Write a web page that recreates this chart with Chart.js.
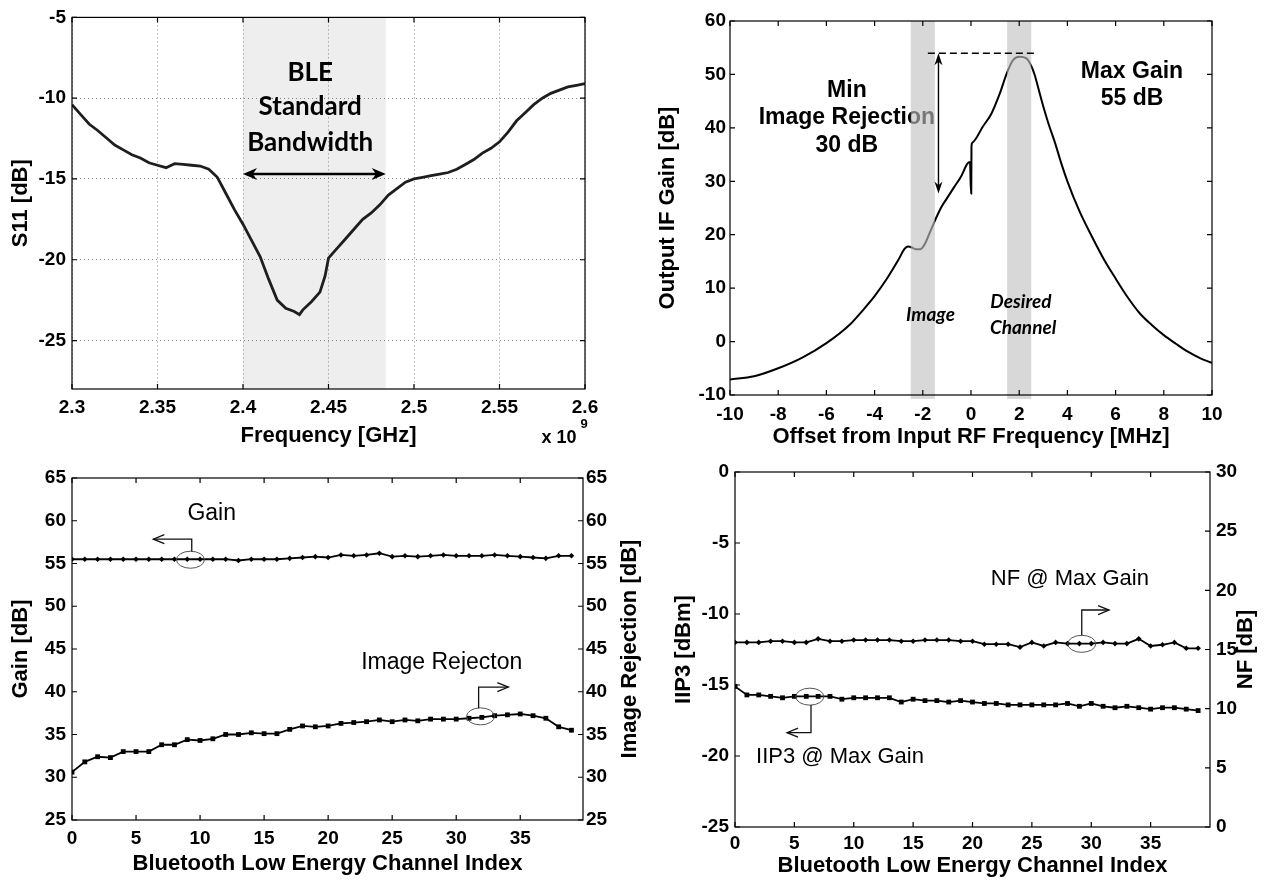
<!DOCTYPE html>
<html>
<head>
<meta charset="utf-8">
<script src="https://cdn.jsdelivr.net/npm/chart.js@4.4.1/dist/chart.umd.min.js"></script>
<style>
  html, body { margin: 0; padding: 0; background: #fff; }
  #wrap { position: relative; width: 1264px; height: 880px; overflow: hidden; background: #fff; }
  .panel { position: absolute; }
</style>
</head>
<body>
<div id="wrap">
  <div class="panel" style="left:0;top:0;width:640px;height:450px"><canvas id="s11Chart"></canvas></div>
  <div class="panel" style="left:640px;top:0;width:624px;height:450px"><canvas id="ifChart"></canvas></div>
  <div class="panel" style="left:0;top:450px;width:660px;height:430px"><canvas id="gainChart"></canvas></div>
  <div class="panel" style="left:640px;top:450px;width:624px;height:430px"><canvas id="nfChart"></canvas></div>
</div>

<script>
// ========== Data: S11 ==========
const s11Freq = [2.300, 2.305, 2.310, 2.315, 2.320, 2.325, 2.330, 2.335, 2.340, 2.345,
                 2.350, 2.355, 2.360, 2.365, 2.370, 2.375, 2.380, 2.385, 2.390, 2.395,
                 2.400, 2.405, 2.410, 2.415, 2.420, 2.425, 2.430, 2.433, 2.435, 2.440,
                 2.445, 2.448, 2.450, 2.455, 2.460, 2.465, 2.470, 2.475, 2.480, 2.485,
                 2.490, 2.495, 2.500, 2.505, 2.510, 2.515, 2.520, 2.525, 2.530, 2.535,
                 2.540, 2.545, 2.550, 2.555, 2.560, 2.565, 2.570, 2.575, 2.580, 2.585,
                 2.590, 2.595, 2.600];
const s11Db = [-10.4, -11.0, -11.6, -12.0, -12.45, -12.9, -13.2, -13.5, -13.7, -14.0,
               -14.15, -14.3, -14.05, -14.1, -14.15, -14.2, -14.4, -14.9, -15.9, -16.9,
               -17.8, -18.8, -19.8, -21.2, -22.5, -23.0, -23.2, -23.4, -23.1, -22.6,
               -22.0, -21.0, -19.9, -19.3, -18.7, -18.1, -17.5, -17.1, -16.6, -16.0,
               -15.6, -15.2, -15.0, -14.9, -14.8, -14.7, -14.6, -14.4, -14.1, -13.8,
               -13.4, -13.1, -12.7, -12.1, -11.4, -10.9, -10.4, -10.0, -9.7, -9.5,
               -9.3, -9.2, -9.1];
const s11XTicks = [2.3, 2.35, 2.4, 2.45, 2.5, 2.55, 2.6];
const s11YTicks = [-25, -20, -15, -10, -5];
const bleBand = [2.4, 2.4835];

// ========== Data: IF gain vs offset ==========
const ifOffset = [-10, -9, -8, -7, -6, -5, -4.5, -4, -3.5, -3, -2.75, -2.6, -2.45, -2.3, -2.1,
                  -1.9, -1.7, -1.5, -1.25, -1, -0.7, -0.4, -0.15, -0.04, 0, 0.01, 0.02, 0.05,
                  0.5, 0.85, 1.2, 1.5, 1.75, 2.0, 2.3, 2.5, 2.65, 2.8, 3.0, 3.2, 3.5, 3.75, 4.0, 4.5,
                  5.0, 5.5, 6.0, 6.5, 7.0, 7.5, 8.0, 8.5, 9.0, 9.5, 10];
const ifGain = [-7.1, -6.5, -5.0, -3.0, -0.3, 3.3, 5.8, 8.5, 11.7, 15.4, 17.4, 17.8, 17.6, 17.3, 17.3,
                18.4, 20.5, 22.6, 25.0, 26.8, 28.9, 31.0, 33.3, 33.6, 27.7, 27.7, 36.5, 37.2,
                40.3, 42.7, 46.5, 50.4, 52.7, 53.3, 53.0, 51.6, 49.8, 47.3, 44.0, 41.0, 37.0, 33.3, 30.0, 24.4,
                19.8, 15.5, 11.8, 8.3, 5.3, 3.1, 1.2, -0.4, -1.9, -3.1, -4.0];
const ifXTicks = [-10, -8, -6, -4, -2, 0, 2, 4, 6, 8, 10];
const ifYTicks = [-10, 0, 10, 20, 30, 40, 50, 60];
const imageBand = [-2.5, -1.5];
const desiredBand = [1.5, 2.5];

// ========== Data: channel sweeps ==========
const channelIdx = [0, 1, 2, 3, 4, 5, 6, 7, 8, 9, 10, 11, 12, 13, 14, 15, 16, 17, 18, 19,
                    20, 21, 22, 23, 24, 25, 26, 27, 28, 29, 30, 31, 32, 33, 34, 35, 36, 37, 38, 39];
const gainDb = [55.5, 55.5, 55.5, 55.5, 55.5, 55.5, 55.5, 55.5, 55.5, 55.5,
                55.5, 55.5, 55.5, 55.35, 55.5, 55.5, 55.5, 55.6, 55.7, 55.8,
                55.7, 56.0, 55.9, 56.0, 56.2, 55.8, 55.9, 55.8, 55.9, 56.0,
                55.9, 55.9, 55.9, 56.0, 55.9, 55.8, 55.7, 55.6, 55.9, 55.9];
const imageRejDb = [30.6, 31.8, 32.4, 32.3, 33.0, 33.0, 33.0, 33.8, 33.8, 34.4,
                    34.3, 34.5, 35.0, 35.0, 35.2, 35.1, 35.1, 35.6, 36.0, 35.9,
                    36.0, 36.3, 36.4, 36.5, 36.7, 36.5, 36.7, 36.6, 36.8, 36.8,
                    36.8, 36.9, 37.0, 37.2, 37.3, 37.4, 37.2, 36.9, 35.9, 35.5];
const nfDb = [15.6, 15.6, 15.6, 15.7, 15.7, 15.6, 15.6, 15.9, 15.7, 15.7,
              15.8, 15.8, 15.8, 15.8, 15.7, 15.7, 15.8, 15.8, 15.8, 15.7,
              15.7, 15.45, 15.45, 15.45, 15.2, 15.6, 15.3, 15.6, 15.5, 15.5,
              15.5, 15.6, 15.5, 15.5, 15.9, 15.3, 15.4, 15.6, 15.1, 15.1];
const iip3Dbm = [-15.1, -15.7, -15.7, -15.8, -15.9, -15.8, -15.8, -15.8, -15.8, -16.0,
                 -15.9, -15.9, -15.9, -15.9, -16.2, -16.0, -16.1, -16.1, -16.2, -16.1,
                 -16.2, -16.3, -16.3, -16.4, -16.4, -16.4, -16.4, -16.4, -16.3, -16.5,
                 -16.3, -16.5, -16.6, -16.5, -16.6, -16.7, -16.6, -16.6, -16.7, -16.8];
const chXTicks = [0, 5, 10, 15, 20, 25, 30, 35];
const gainTicks = [25, 30, 35, 40, 45, 50, 55, 60, 65];
const iip3Ticks = [-25, -20, -15, -10, -5, 0];
const nfTicks = [0, 5, 10, 15, 20, 25, 30];

// ========== Common styling ==========
const FONT = "'Liberation Sans', Arial, Helvetica, sans-serif";
const tickFont = { family: FONT, size: 19, weight: 'bold' };
const titleFont = { family: FONT, size: 22, weight: 'bold' };
const TICK = 5;

function pts(xs, ys) {
  return xs.map((x, i) => ({ x: x, y: ys[i] }));
}

function axis(o) {
  return {
    type: 'linear',
    position: o.position,
    min: o.min,
    max: o.max,
    afterBuildTicks: s => { s.ticks = o.ticks.map(v => ({ value: v })); },
    afterFit: s => {
      if (o.width != null) s.width = o.width;
      if (o.height != null) s.height = o.height;
    },
    grid: o.grid ? { color: '#8c8c8c', lineWidth: 1, drawTicks: false } : { display: false, drawTicks: false },
    border: { display: false, dash: o.grid ? [1, 3] : [] },
    ticks: {
      font: tickFont, color: '#000', padding: o.pad, maxRotation: 0, autoSkip: false,
      callback: v => String(Math.round(v * 100) / 100)
    },
    title: o.title
      ? { display: true, text: o.title, font: titleFont, color: '#000', padding: o.titlePad }
      : { display: false }
  };
}

function baseOptions(padding, scales) {
  return {
    responsive: true,
    maintainAspectRatio: false,
    animation: false,
    events: [],
    layout: { padding: padding },
    plugins: { legend: { display: false }, tooltip: { enabled: false } },
    scales: scales
  };
}

// ========== Drawing helpers ==========
function drawFrame(chart, rightId) {
  const { ctx, chartArea: a, scales } = chart;
  ctx.save();
  ctx.strokeStyle = '#000';
  ctx.lineWidth = 1.2;
  ctx.strokeRect(a.left, a.top, a.right - a.left, a.bottom - a.top);
  ctx.beginPath();
  scales.x.ticks.forEach(t => {
    const p = scales.x.getPixelForValue(t.value);
    ctx.moveTo(p, a.bottom); ctx.lineTo(p, a.bottom - TICK);
    ctx.moveTo(p, a.top); ctx.lineTo(p, a.top + TICK);
  });
  scales.y.ticks.forEach(t => {
    const p = scales.y.getPixelForValue(t.value);
    ctx.moveTo(a.left, p); ctx.lineTo(a.left + TICK, p);
    if (!rightId) { ctx.moveTo(a.right, p); ctx.lineTo(a.right - TICK, p); }
  });
  if (rightId) {
    scales[rightId].ticks.forEach(t => {
      const p = scales[rightId].getPixelForValue(t.value);
      ctx.moveTo(a.right, p); ctx.lineTo(a.right - TICK, p);
    });
  }
  ctx.stroke();
  ctx.restore();
}

function fillHead(ctx, x, y, dx, dy, len, half) {
  // filled arrow head pointing along (dx, dy)
  const nx = -dy, ny = dx;
  ctx.beginPath();
  ctx.moveTo(x, y);
  ctx.lineTo(x - dx * len + nx * half, y - dy * len + ny * half);
  ctx.lineTo(x - dx * len * 0.7, y - dy * len * 0.7);
  ctx.lineTo(x - dx * len - nx * half, y - dy * len - ny * half);
  ctx.closePath();
  ctx.fill();
}

function openHead(ctx, x, y, dx, dy, len, half) {
  const nx = -dy, ny = dx;
  ctx.beginPath();
  ctx.moveTo(x - dx * len + nx * half, y - dy * len + ny * half);
  ctx.lineTo(x, y);
  ctx.lineTo(x - dx * len - nx * half, y - dy * len - ny * half);
  ctx.stroke();
}

function text(ctx, str, x, y, font) {
  ctx.font = font;
  ctx.textAlign = 'center';
  ctx.textBaseline = 'middle';
  ctx.fillStyle = '#000';
  ctx.fillText(str, x, y);
}

// callout: ellipse around a point, bent line to an arrow
function callout(chart, yId, c, path) {
  const { ctx, scales } = chart;
  const X = v => scales.x.getPixelForValue(v);
  const Y = v => scales[yId].getPixelForValue(v);
  ctx.save();
  ctx.strokeStyle = '#555';
  ctx.lineWidth = 1;
  ctx.beginPath();
  ctx.ellipse(X(c.x), Y(c.y), 14, 8.5, 0, 0, Math.PI * 2);
  ctx.stroke();
  ctx.strokeStyle = '#111';
  ctx.lineWidth = 1.3;
  ctx.beginPath();
  path.forEach((p, i) => { if (i === 0) ctx.moveTo(X(p[0]), Y(p[1])); else ctx.lineTo(X(p[0]), Y(p[1])); });
  ctx.stroke();
  const last = path[path.length - 1];
  const dir = last[0] > path[path.length - 2][0] ? 1 : -1;
  openHead(ctx, X(last[0]), Y(last[1]), dir, 0, 11, 4.5);
  ctx.restore();
}

function rightTitle(chart, str, x) {
  const { ctx, chartArea: a } = chart;
  ctx.save();
  ctx.translate(x, (a.top + a.bottom) / 2);
  ctx.rotate(-Math.PI / 2);
  text(ctx, str, 0, 0, 'bold 22px ' + FONT);
  ctx.restore();
}

// ========== Chart 1: S11 ==========
new Chart(document.getElementById('s11Chart'), {
  type: 'line',
  data: {
    datasets: [{
      data: pts(s11Freq, s11Db),
      borderColor: '#1e1e1e', borderWidth: 2.8, pointRadius: 0, tension: 0
    }]
  },
  options: baseOptions({ left: 0, right: 55, top: 16, bottom: 0 }, {
    x: axis({ position: 'bottom', min: 2.3, max: 2.6, ticks: s11XTicks, height: 61, pad: 7, grid: true,
              title: 'Frequency [GHz]', titlePad: { top: 0, bottom: 1 } }),
    y: axis({ position: 'left', min: -28, max: -5, ticks: s11YTicks, width: 72, pad: 6, grid: true,
              title: 'S11 [dB]', titlePad: { top: 8, bottom: 0 } })
  }),
  plugins: [{
    id: 's11Deco',
    beforeDatasetsDraw(chart) {
      const { ctx, chartArea: a, scales: { x, y } } = chart;
      ctx.save();
      ctx.fillStyle = 'rgba(0,0,0,0.065)';
      const x0 = x.getPixelForValue(bleBand[0]), x1 = x.getPixelForValue(bleBand[1]);
      ctx.fillRect(x0, a.top, x1 - x0, a.bottom - a.top);
      const f = "bold 26px Lato, 'Open Sans', sans-serif";
      const cx = x.getPixelForValue(2.4393);
      text(ctx, 'BLE', cx, y.getPixelForValue(-8.44), f);
      text(ctx, 'Standard', cx, y.getPixelForValue(-10.5), f);
      text(ctx, 'Bandwidth', cx, y.getPixelForValue(-12.75), f);
      // double arrow across the band
      const ay = y.getPixelForValue(-14.7);
      ctx.strokeStyle = '#000'; ctx.lineWidth = 2.5;
      ctx.beginPath(); ctx.moveTo(x0 + 8, ay); ctx.lineTo(x1 - 8, ay); ctx.stroke();
      ctx.fillStyle = '#000';
      fillHead(ctx, x0, ay, -1, 0, 14, 6);
      fillHead(ctx, x1, ay, 1, 0, 14, 6);
      ctx.restore();
    },
    afterDatasetsDraw(chart) {
      drawFrame(chart);
      const { ctx, chartArea: a } = chart;
      ctx.save();
      text(ctx, 'x 10', a.right - 26, a.bottom + 49, 'bold 18px ' + FONT);
      text(ctx, '9', a.right - 1, a.bottom + 35, 'bold 13px ' + FONT);
      ctx.restore();
    }
  }]
});

// ========== Chart 2: Output IF gain ==========
new Chart(document.getElementById('ifChart'), {
  type: 'line',
  data: {
    datasets: [{
      data: pts(ifOffset, ifGain),
      borderColor: '#000', borderWidth: 2, pointRadius: 0, cubicInterpolationMode: 'monotone'
    }]
  },
  options: baseOptions({ left: 0, right: 52, top: 21, bottom: 0 }, {
    x: axis({ position: 'bottom', min: -10, max: 10, ticks: ifXTicks, height: 55, pad: 8,
              title: 'Offset from Input RF Frequency [MHz]', titlePad: { top: 0, bottom: 0 } }),
    y: axis({ position: 'left', min: -10, max: 60, ticks: ifYTicks, width: 90, pad: 4,
              title: 'Output IF Gain [dB]', titlePad: { top: 15, bottom: 0 } })
  }),
  plugins: [{
    id: 'ifDeco',
    beforeDatasetsDraw(chart) {
      const { ctx, scales: { x, y } } = chart;
      ctx.save();
      const f = 'bold 23px ' + FONT;
      text(ctx, 'Min', x.getPixelForValue(-5.15), y.getPixelForValue(46.96), f);
      text(ctx, 'Image Rejection', x.getPixelForValue(-5.15), y.getPixelForValue(41.85), f);
      text(ctx, '30 dB', x.getPixelForValue(-5.15), y.getPixelForValue(36.6), f);
      text(ctx, 'Max Gain', x.getPixelForValue(6.68), y.getPixelForValue(50.46), f);
      text(ctx, '55 dB', x.getPixelForValue(6.68), y.getPixelForValue(45.4), f);
      ctx.restore();
    },
    afterDatasetsDraw(chart) {
      const { ctx, chartArea: a, scales: { x, y } } = chart;
      ctx.save();
      ctx.fillStyle = 'rgba(192,192,192,0.62)';
      [imageBand, desiredBand].forEach(b => {
        const x0 = x.getPixelForValue(b[0]), x1 = x.getPixelForValue(b[1]);
        ctx.fillRect(x0, a.top, x1 - x0, a.bottom - a.top + 4);
      });
      // dashed max-gain level
      const yl = y.getPixelForValue(53.96);
      ctx.strokeStyle = '#000'; ctx.lineWidth = 1.6;
      ctx.setLineDash([7, 4]);
      ctx.beginPath(); ctx.moveTo(x.getPixelForValue(-1.79), yl); ctx.lineTo(x.getPixelForValue(2.64), yl); ctx.stroke();
      ctx.setLineDash([]);
      // rejection arrow
      const ax = x.getPixelForValue(-1.35), yb = y.getPixelForValue(27.7);
      ctx.lineWidth = 1.4;
      ctx.beginPath(); ctx.moveTo(ax, yl + 8); ctx.lineTo(ax, yb - 8); ctx.stroke();
      ctx.fillStyle = '#000';
      fillHead(ctx, ax, yl, 0, -1, 12, 4);
      fillHead(ctx, ax, yb, 0, 1, 12, 4);
      const fi = "italic bold 19px Lato, 'Open Sans', sans-serif";
      text(ctx, 'Image', x.getPixelForValue(-1.68), y.getPixelForValue(4.98), fi);
      text(ctx, 'Desired', x.getPixelForValue(2.07), y.getPixelForValue(7.47), fi);
      text(ctx, 'Channel', x.getPixelForValue(2.16), y.getPixelForValue(2.55), fi);
      ctx.restore();
      drawFrame(chart);
    }
  }]
});

// ========== Chart 3: Gain & image rejection vs channel ==========
new Chart(document.getElementById('gainChart'), {
  type: 'line',
  data: {
    datasets: [{
      data: pts(channelIdx, gainDb), yAxisID: 'y',
      borderColor: '#000', borderWidth: 1.8, tension: 0,
      pointStyle: 'rectRot', pointRadius: 2.8, pointBackgroundColor: '#000', pointBorderWidth: 0
    }, {
      data: pts(channelIdx, imageRejDb), yAxisID: 'y2',
      borderColor: '#000', borderWidth: 1.8, tension: 0,
      pointStyle: 'rect', pointRadius: 3.4, pointBackgroundColor: '#000', pointBorderWidth: 0
    }]
  },
  options: baseOptions({ left: 0, right: 0, top: 28, bottom: 0 }, {
    x: axis({ position: 'bottom', min: 0, max: 39.9, ticks: chXTicks, height: 60, pad: 7,
              title: 'Bluetooth Low Energy Channel Index', titlePad: { top: 0, bottom: 3 } }),
    y: axis({ position: 'left', min: 25, max: 65, ticks: gainTicks, width: 72, pad: 6,
              title: 'Gain [dB]', titlePad: { top: 8, bottom: 0 } }),
    y2: axis({ position: 'right', min: 25, max: 65, ticks: gainTicks, width: 77, pad: 3 })
  }),
  plugins: [{
    id: 'gainDeco',
    afterDatasetsDraw(chart) {
      const { ctx, scales: { x, y } } = chart;
      drawFrame(chart, 'y2');
      ctx.save();
      const f = '23px ' + FONT;
      text(ctx, 'Gain', x.getPixelForValue(10.91), y.getPixelForValue(60.87), f);
      text(ctx, 'Image Rejecton', x.getPixelForValue(28.87), y.getPixelForValue(43.36), f);
      ctx.restore();
      callout(chart, 'y', { x: 9.25, y: 55.44 }, [[9.35, 56.4], [9.35, 57.85], [6.35, 57.85]]);
      callout(chart, 'y2', { x: 31.9, y: 37.12 }, [[31.75, 38.1], [31.75, 40.55], [34.07, 40.55]]);
      rightTitle(chart, 'Image Rejection [dB]', 630);
    }
  }]
});

// ========== Chart 4: IIP3 & NF vs channel ==========
new Chart(document.getElementById('nfChart'), {
  type: 'line',
  data: {
    datasets: [{
      data: pts(channelIdx, nfDb), yAxisID: 'y2',
      borderColor: '#000', borderWidth: 1.8, tension: 0,
      pointStyle: 'rectRot', pointRadius: 2.8, pointBackgroundColor: '#000', pointBorderWidth: 0
    }, {
      data: pts(channelIdx, iip3Dbm), yAxisID: 'y',
      borderColor: '#000', borderWidth: 1.8, tension: 0,
      pointStyle: 'rect', pointRadius: 3.4, pointBackgroundColor: '#000', pointBorderWidth: 0
    }]
  },
  options: baseOptions({ left: 0, right: 0, top: 22, bottom: 0 }, {
    x: axis({ position: 'bottom', min: 0, max: 40, ticks: chXTicks, height: 53, pad: 5,
              title: 'Bluetooth Low Energy Channel Index', titlePad: { top: 0, bottom: 1 } }),
    y: axis({ position: 'left', min: -25, max: 0, ticks: iip3Ticks, width: 95, pad: 6,
              title: 'IIP3 [dBm]', titlePad: { top: 31, bottom: 0 } }),
    y2: axis({ position: 'right', min: 0, max: 30, ticks: nfTicks, width: 54, pad: 6 })
  }),
  plugins: [{
    id: 'nfDeco',
    afterDatasetsDraw(chart) {
      const { ctx, scales: { x, y } } = chart;
      drawFrame(chart, 'y2');
      ctx.save();
      const f = '22px ' + FONT;
      text(ctx, 'NF @ Max Gain', x.getPixelForValue(28.2), y.getPixelForValue(-7.56), f);
      text(ctx, 'IIP3 @ Max Gain', x.getPixelForValue(8.84), y.getPixelForValue(-20.05), f);
      ctx.restore();
      callout(chart, 'y', { x: 29.2, y: -12.1 }, [[29.2, -11.5], [29.2, -9.72], [31.5, -9.72]]);
      callout(chart, 'y', { x: 6.3, y: -15.82 }, [[6.4, -16.41], [6.4, -18.36], [4.38, -18.36]]);
      rightTitle(chart, 'NF [dB]', 606);
    }
  }]
});
</script>
</body>
</html>
